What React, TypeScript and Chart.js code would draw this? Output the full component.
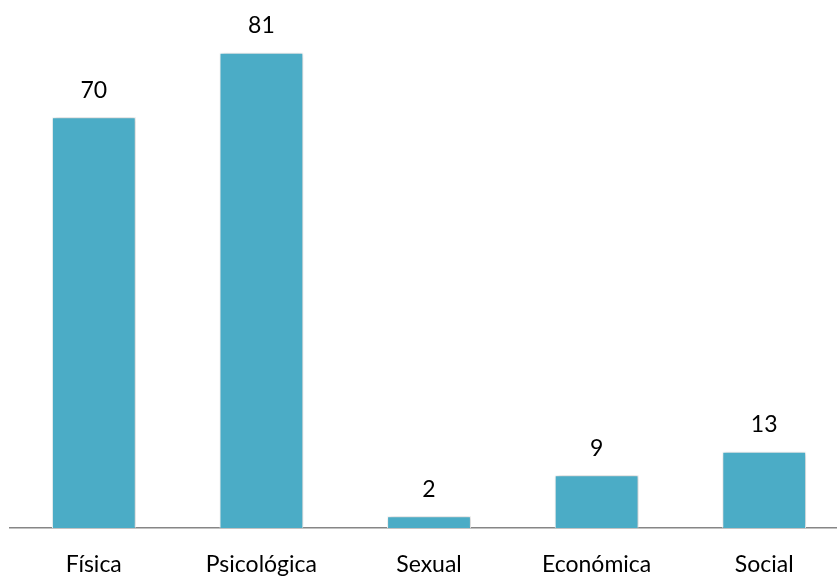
import React, { useEffect, useRef } from "react";
import { Chart, registerables } from "chart.js";

Chart.register(...registerables);

const categories = ["Física", "Psicológica", "Sexual", "Económica", "Social"];
const values = [70, 81, 2, 9, 13];

const FONT = "Lato, 'Open Sans', sans-serif";

const shadowPlugin = {
  id: "barShadow",
  beforeDatasetsDraw(chart: any) {
    const ctx = chart.ctx;
    ctx.save();
    ctx.shadowColor = "rgba(0,0,0,0.28)";
    ctx.shadowBlur = 5;
    ctx.shadowOffsetX = 1;
    ctx.shadowOffsetY = 0;
  },
  afterDatasetsDraw(chart: any) {
    chart.ctx.restore();
  },
};

const labelPlugin = {
  id: "valueLabels",
  afterDatasetsDraw(chart: any) {
    const ctx = chart.ctx;
    const meta = chart.getDatasetMeta(0);
    ctx.save();
    ctx.fillStyle = "#000";
    ctx.font = `23px ${FONT}`;
    ctx.textAlign = "center";
    ctx.textBaseline = "middle";
    meta.data.forEach((bar: any, i: number) => {
      ctx.fillText(String(values[i]), bar.x, bar.y - 27);
    });
    ctx.restore();
  },
};

export default function App() {
  const ref = useRef<HTMLCanvasElement>(null);
  useEffect(() => {
    if (!ref.current) return;
    const chart = new Chart(ref.current, {
      type: "bar",
      data: {
        labels: categories,
        datasets: [
          {
            data: values,
            backgroundColor: "#4BACC6",
            borderColor: "#ffffff",
            borderWidth: 1,
            categoryPercentage: 1,
            barPercentage: 0.5,
          },
        ],
      },
      options: {
        responsive: false,
        animation: false,
        layout: { padding: { left: 10, right: 0, top: 0, bottom: 0 } },
        plugins: { legend: { display: false }, tooltip: { enabled: false } },
        scales: {
          x: {
            grid: { display: false, drawTicks: false },
            border: { display: true, color: "#868686", width: 1.5 },
            ticks: {
              color: "#000",
              font: { family: FONT, size: 23 },
              padding: 23,
              maxRotation: 0,
            },
            afterFit(scale: any) {
              scale.height = 48;
            },
          },
          y: {
            display: false,
            min: 0,
            max: 90,
          },
        },
      },
      plugins: [shadowPlugin, labelPlugin],
    });
    return () => chart.destroy();
  }, []);
  return (
    <div
      style={{
        position: "fixed",
        left: 0,
        top: 0,
        width: 837,
        height: 576,
        overflow: "hidden",
        background: "#fff",
      }}
    >
      <canvas
        ref={ref}
        width={848}
        height={576}
        style={{ position: "absolute", left: 0, top: 0, width: 848, height: 576 }}
      />
    </div>
  );
}
